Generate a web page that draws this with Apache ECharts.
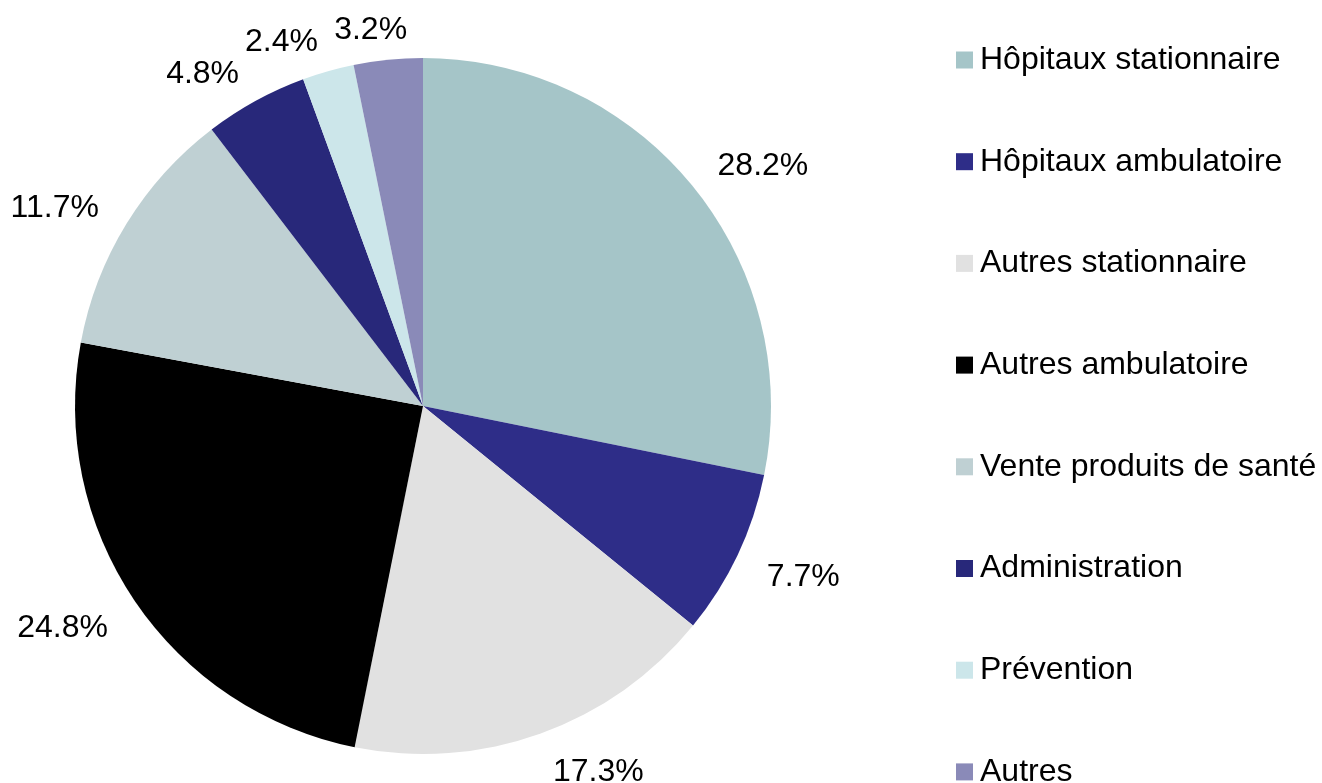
<!DOCTYPE html>
<html>
<head>
<meta charset="utf-8">
<title>Dépenses de santé</title>
<script src="https://cdn.jsdelivr.net/npm/echarts@6/dist/echarts.min.js"></script>
<style>
  html, body { margin: 0; padding: 0; background: #fff; }
  #main { width: 1322px; height: 783px; }
</style>
</head>
<body>
<div id="main"></div>
<script>
// categories and shares (%)
const categories = [
  'Hôpitaux stationnaire',
  'Hôpitaux ambulatoire',
  'Autres stationnaire',
  'Autres ambulatoire',
  'Vente produits de santé',
  'Administration',
  'Prévention',
  'Autres'
];
const shares = [28.2, 7.7, 17.3, 24.8, 11.7, 4.8, 2.4, 3.2];
const colors = ['#a5c5c8', '#2e2d88', '#e1e1e1', '#000000', '#bfd0d3', '#28287a', '#cce6ea', '#8a8ab8'];

const cx = 423, cy = 406;
const legendTop = 44, legendStep = 101.7;

// legend shared style; split in two so the last entry does not wrap into a second column
const legendBase = {
  orient: 'vertical',
  left: 956,
  padding: 0,
  itemWidth: 17,
  itemHeight: 17,
  itemGap: legendStep - 32,
  icon: 'rect',
  textStyle: { fontSize: 32, color: '#000', padding: [0, 0, 0, 2] }
};

const myChart = echarts.init(document.getElementById('main'));

myChart.setOption({
  animation: false,
  color: colors,
  textStyle: { fontFamily: '"Liberation Sans", Arial, sans-serif' },
  legend: [
    Object.assign({}, legendBase, { top: legendTop, data: categories.slice(0, 7) }),
    Object.assign({}, legendBase, { top: legendTop + 7 * legendStep, data: categories.slice(7) })
  ],
  series: [
    {
      type: 'pie',
      center: [cx, cy],
      radius: 348,
      startAngle: 90,
      clockwise: true,
      avoidLabelOverlap: false,
      labelLayout: function (p) {
        // Excel-like placement: labels below the centre sit a bit lower,
        // the thin top slice keeps its label right of the neighbour's
        const below = p.labelRect.y + p.labelRect.height / 2 > cy;
        return {
          hideOverlap: false,
          dy: below ? 10 : 0,
          dx: p.dataIndex === 7 ? 24 : 0
        };
      },
      itemStyle: { borderWidth: 0 },
      label: {
        show: true,
        position: 'outside',
        fontSize: 32,
        color: '#000',
        distanceToLabelLine: 2,
        formatter: p => p.value.toFixed(1) + '%'
      },
      labelLine: { show: false, length: 30, length2: 0 },
      emphasis: { disabled: true },
      data: categories.map((name, i) => ({ name: name, value: shares[i] }))
    }
  ]
});
</script>
</body>
</html>
